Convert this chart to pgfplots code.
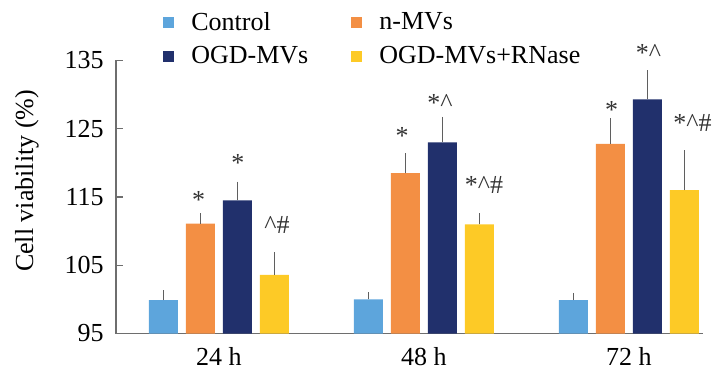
\documentclass[border=0pt]{standalone}
\usepackage{fontspec}
\setmainfont{Liberation Serif}
\usepackage{pgfplots}
\usepackage{pgfplotstable}
\pgfplotsset{compat=1.18}
\definecolor{cctrl}{RGB}{93,165,220}
\definecolor{cn}{RGB}{243,143,68}
\definecolor{cogd}{RGB}{33,48,108}
\definecolor{crna}{RGB}{253,202,38}
\definecolor{errc}{RGB}{95,95,95}
\definecolor{axc}{RGB}{110,110,110}

\pgfplotstableread{
x y e
0 99.9 1.0
1 100.0 0.6
2 99.9 0.6
}\ctrl
\pgfplotstableread{
x y e
0 111.1 1.1
1 118.5 2.5
2 122.8 3.3
}\nmv
\pgfplotstableread{
x y e
0 114.5 2.3
1 123.0 3.3
2 129.3 3.8
}\ogd
\pgfplotstableread{
x y e
0 103.6 2.9
1 111.0 1.2
2 116.0 5.4
}\rna

\begin{document}
\begin{tikzpicture}[font=\fontsize{13bp}{15.6bp}\selectfont]
\begin{axis}[name=ax,
  scale only axis, width=293.5bp, height=136.5bp,
  xmin=-0.502, xmax=2.361, ymin=95, ymax=135,
  ytick={95,105,...,135},
  xtick={0,1,2}, xticklabels={24 h,48 h,72 h},
  axis x line*=bottom, axis y line*=left,
  axis line style={axc, line width=0.75bp},
  tick align=inside, major tick length=3.5bp,
  ytick style={axc, line width=0.75bp}, xtick style={draw=none},
  /pgf/number format/assume math mode=true,
  yticklabel style={xshift=-2.7bp},
  ybar=4bp, bar width=14.5bp,
  ylabel={Cell viability (\%)},
  every axis y label/.style={at={(axis description cs:-0.1516,0.5586)}, rotate=90, anchor=center},
  clip mode=individual,
  legend columns=2,
  legend style={at={(axis description cs:0.08,1.178)}, anchor=north west, draw=none, fill=none,
    inner sep=0pt, nodes={inner sep=0pt, anchor=west},
    /tikz/every odd column/.append style={column sep=8.5bp},
    /tikz/every even column/.append style={column sep=21.5bp},
    row sep=6.5bp},
  legend image code/.code={\fill[#1] (0bp,-2.75bp) rectangle (5.5bp,2.75bp);},
  error bars/y dir=plus, error bars/y explicit,
  error bars/error bar style={errc, line width=0.75bp},
  error bars/error mark options={errc, line width=0.75bp, mark size=1.5bp},
]
\addplot[fill=cctrl, draw=none] table[x=x, y=y, y error=e]{\ctrl};
\addlegendentry{Control}
\addplot[fill=cn, draw=none] table[x=x, y=y, y error=e]{\nmv};
\addlegendentry{n-MVs}
\addplot[fill=cogd, draw=none] table[x=x, y=y, y error=e]{\ogd};
\addlegendentry{OGD-MVs}
\addplot[fill=crna, draw=none] table[x=x, y=y, y error=e]{\rna};
\addlegendentry{OGD-MVs+RNase}

\tikzset{ann/.style={anchor=base, inner sep=0pt, text=black!80}}
\node[ann] at (axis cs:-0.099,113.3) {*};
\node[ann] at (axis cs:0.093,118.7) {*};
\node[ann] at (axis cs:0.283,109.6) {\textasciicircum\#};
\node[ann] at (axis cs:0.893,122.7) {*};
\node[ann] at (axis cs:1.078,127.5) {*\textasciicircum};
\node[ann] at (axis cs:1.293,115.5) {*\textasciicircum\#};
\node[ann] at (axis cs:1.915,126.5) {*};
\node[ann] at (axis cs:2.095,134.8) {*\textasciicircum};
\node[ann] at (axis cs:2.31,124.6) {*\textasciicircum\#};
\end{axis}
\pgfresetboundingbox
\path[use as bounding box] ([xshift=-58bp,yshift=-17.75bp]ax.south west) rectangle ([xshift=302.5bp,yshift=166.75bp]ax.south west);
\end{tikzpicture}
\end{document}
